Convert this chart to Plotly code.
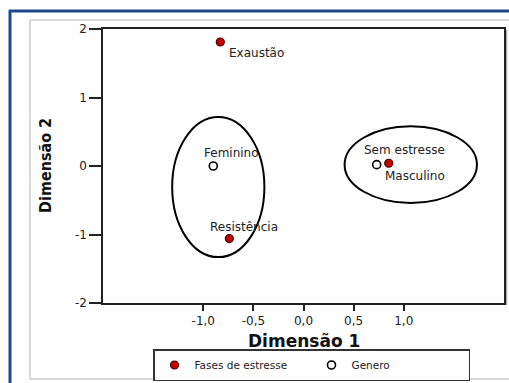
import plotly.graph_objects as go

# Stress phases (filled markers)
fases_labels = ["Exaustão", "Resistência", "Sem estresse"]
fases_x = [-0.83, -0.74, 0.85]
fases_y = [1.81, -1.06, 0.04]

# Gender categories (hollow markers)
genero_labels = ["Feminino", "Masculino"]
genero_x = [-0.90, 0.73]
genero_y = [0.00, 0.02]

# Axis ticks
x_tickvals = [-1.0, -0.5, 0.0, 0.5, 1.0]
x_ticktext = ["-1,0", "-0,5", "0,0", "0,5", "1,0"]
y_tickvals = [-2, -1, 0, 1, 2]
y_ticktext = ["-2", "-1", "0", "1", "2"]

# Label offsets (pixels) for each point label
fases_offsets = [(7, -11), (-21, 12), (-27, 13)]
genero_offsets = [(-11, 13), (6, -11)]

# Plot area in pixels
W, H = 509, 383
L, R, T, B = 103, 5, 29, 80
PW, PH = W - L - R, H - T - B


def px_x(p):
    return (p - L) / PW


def px_y(p):
    return (H - B - p) / PH


fig = go.Figure()

fig.add_trace(go.Scatter(
    x=fases_x, y=fases_y, mode="markers", name="Fases de estresse",
    marker=dict(size=8, color="#c40000", line=dict(color="#4a0000", width=1.2)),
))
fig.add_trace(go.Scatter(
    x=genero_x, y=genero_y, mode="markers", name="Genero",
    marker=dict(size=8, color="white", line=dict(color="black", width=1.6)),
))

annotations = []
lab_font = dict(family="DejaVu Sans", size=12, color="#222222")
for lbl, x, y, (dx, dy) in zip(fases_labels, fases_x, fases_y, fases_offsets):
    annotations.append(dict(x=x, y=y, xref="x", yref="y", text=lbl, showarrow=False,
                            xanchor="left", yanchor="middle", xshift=dx, yshift=dy,
                            font=lab_font))
for lbl, x, y, (dx, dy) in zip(genero_labels, genero_x, genero_y, genero_offsets):
    annotations.append(dict(x=x, y=y, xref="x", yref="y", text=lbl, showarrow=False,
                            xanchor="left", yanchor="middle", xshift=dx, yshift=dy,
                            font=lab_font))

# Axis titles
annotations.append(dict(x=px_x(304), y=px_y(341), xref="paper", yref="paper",
                        text="<b>Dimensão 1</b>", showarrow=False,
                        xanchor="center", yanchor="middle",
                        font=dict(family="DejaVu Sans", size=17, color="#111111")))
annotations.append(dict(x=px_x(45), y=px_y(165), xref="paper", yref="paper",
                        text="<b>Dimensão 2</b>", showarrow=False, textangle=-90,
                        xanchor="center", yanchor="middle",
                        font=dict(family="DejaVu Sans Condensed, Roboto, sans-serif",
                                  size=16, color="#111111")))


def hline(y, x0, x1, color, width):
    return dict(type="line", xref="paper", yref="paper", x0=px_x(x0), x1=px_x(x1),
                y0=px_y(y), y1=px_y(y), line=dict(color=color, width=width), layer="below")


def vline(x, y0, y1, color, width):
    return dict(type="line", xref="paper", yref="paper", x0=px_x(x), x1=px_x(x),
                y0=px_y(y0), y1=px_y(y1), line=dict(color=color, width=width), layer="below")


shapes = [
    # outer blue frame (top and left edges)
    hline(11, 9, 509, "#1d4a8c", 3),
    vline(10, 10, 383, "#1d4a8c", 3),
    # inner grey panel
    hline(20, 30, 509, "#d8d8d8", 2),
    vline(30, 20, 380, "#d8d8d8", 2),
    hline(379, 30, 509, "#d8d8d8", 2),
    # soft shadow along the right of the plot frame
    vline(506.5, 30, 305, "#b0b0b0", 1.5),
    # group ellipses
    dict(type="circle", xref="x", yref="y", x0=-1.31, x1=-0.39, y0=-1.33, y1=0.715,
         line=dict(color="black", width=2)),
    dict(type="circle", xref="x", yref="y", x0=0.41, x1=1.73, y0=-0.54, y1=0.58,
         line=dict(color="black", width=2)),
]

fig.update_layout(
    width=W, height=H,
    margin=dict(l=L, r=R, t=T, b=B, pad=0, autoexpand=False),
    paper_bgcolor="white", plot_bgcolor="white",
    showlegend=True,
    legend=dict(orientation="h", x=px_x(153), xanchor="left", y=px_y(365), yanchor="middle",
                bordercolor="#333333", borderwidth=1.5, bgcolor="white",
                font=dict(family="DejaVu Sans", size=10.5, color="#222222"),
                itemwidth=30, entrywidth=112, tracegroupgap=0),
    annotations=annotations,
    shapes=shapes,
    xaxis=dict(range=[-2, 2], tickvals=x_tickvals, ticktext=x_ticktext,
               showgrid=False, zeroline=False, showline=True, mirror=True,
               linecolor="#222222", linewidth=1.5, ticks="outside", ticklen=6,
               tickwidth=2.2, tickcolor="#222222",
               tickfont=dict(family="DejaVu Sans", size=12, color="#222222")),
    yaxis=dict(range=[-2, 2], tickvals=y_tickvals, ticktext=y_ticktext,
               showgrid=False, zeroline=False, showline=True, mirror=True,
               linecolor="#222222", linewidth=1.5, ticks="outside", ticklen=12,
               tickwidth=1.8, tickcolor="#222222",
               tickfont=dict(family="DejaVu Sans", size=12, color="#222222")),
)

fig.write_html("out.html", config={"displayModeBar": False})
